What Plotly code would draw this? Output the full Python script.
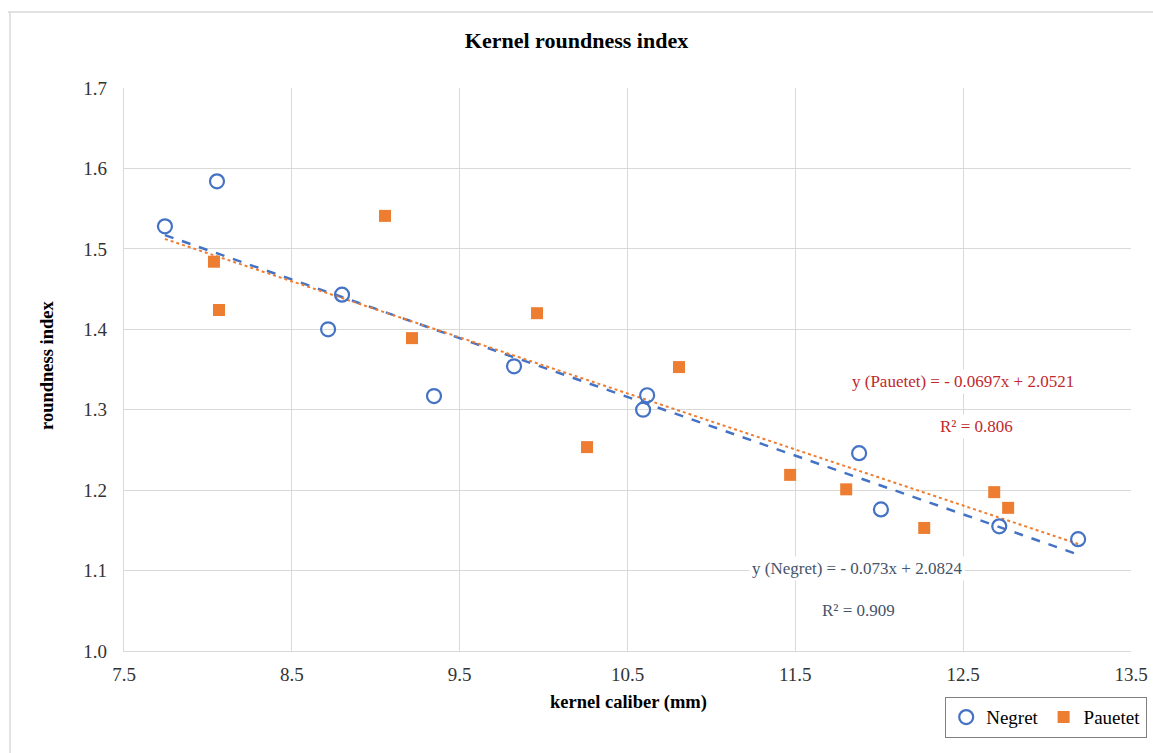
import plotly.graph_objects as go

# Data
negret_x = [7.744, 8.054, 8.716, 8.799, 9.347, 9.824, 10.593, 10.617, 11.88, 12.01, 12.715, 13.185]
negret_y = [1.528, 1.584, 1.400, 1.443, 1.317, 1.354, 1.300, 1.318, 1.246, 1.176, 1.155, 1.139]
pauetet_x = [8.036, 8.066, 9.055, 9.216, 9.961, 10.259, 10.807, 11.469, 11.803, 12.268, 12.685, 12.768]
pauetet_y = [1.484, 1.424, 1.541, 1.389, 1.420, 1.2535, 1.353, 1.219, 1.201, 1.153, 1.1975, 1.178]

# Trendline coefficients (as displayed)
negret_slope, negret_icpt, negret_r2 = -0.073, 2.0824, 0.909
pauetet_slope, pauetet_icpt, pauetet_r2 = -0.0697, 2.0521, 0.806

x_ticks = [7.5, 8.5, 9.5, 10.5, 11.5, 12.5, 13.5]
y_ticks = [1.0, 1.1, 1.2, 1.3, 1.4, 1.5, 1.6, 1.7]

FONT = "Liberation Serif"
BLUE = "#4472C4"
ORANGE = "#ED7D31"

W, H = 1153, 753
L, R, T, B = 124, 22, 88, 102
PW, PH = W - L - R, H - T - B

xmin = min(negret_x + pauetet_x)
xmax = max(negret_x + pauetet_x)
trend_x = [xmin, xmax]

fig = go.Figure()
fig.add_trace(go.Scatter(
    x=trend_x, y=[negret_icpt + negret_slope * v for v in trend_x],
    mode="lines", line=dict(color=BLUE, width=2.5, dash="dash"),
    showlegend=False, hoverinfo="skip"))
fig.add_trace(go.Scatter(
    x=trend_x, y=[pauetet_icpt + pauetet_slope * v for v in trend_x],
    mode="lines", line=dict(color=ORANGE, width=2, dash="dot"),
    showlegend=False, hoverinfo="skip"))
fig.add_trace(go.Scatter(
    x=negret_x, y=negret_y, mode="markers", name="Negret",
    marker=dict(symbol="circle-open", size=14, color=BLUE, line=dict(width=2.2, color=BLUE))))
fig.add_trace(go.Scatter(
    x=pauetet_x, y=pauetet_y, mode="markers", name="Pauetet",
    marker=dict(symbol="square", size=12, color=ORANGE)))

def fmt_eq(name, s, b):
    return f"y ({name}) = - {abs(s):g}x + {b:g}"

ann = [
    dict(x=12.5, y=1.3345, text=fmt_eq("Pauetet", pauetet_slope, pauetet_icpt),
         font=dict(color="#C0282D", size=17, family=FONT)),
    dict(x=12.58, y=1.2795, text=f"R² = {pauetet_r2}",
         font=dict(color="#C0282D", size=17, family=FONT)),
    dict(x=11.87, y=1.102, text=fmt_eq("Negret", negret_slope, negret_icpt),
         font=dict(color="#44546A", size=17, family=FONT)),
    dict(x=11.875, y=1.0505, text=f"R² = {negret_r2}",
         font=dict(color="#44546A", size=17, family=FONT)),
]
for a in ann:
    fig.add_annotation(xref="x", yref="y", showarrow=False, bgcolor="white",
                       borderpad=2, **a)

# axis titles (pixel positions converted to paper coordinates)
fig.add_annotation(xref="paper", yref="paper", x=(628 - L) / PW, y=((H - B) - 702) / PH,
                   text="<b>kernel caliber (mm)</b>", showarrow=False,
                   xanchor="center", yanchor="middle",
                   font=dict(family=FONT, size=18.5, color="black"))
fig.add_annotation(xref="paper", yref="paper", x=(47 - L) / PW, y=((H - B) - 366) / PH,
                   text="<b>roundness index</b>", showarrow=False, textangle=-90,
                   xanchor="center", yanchor="middle",
                   font=dict(family=FONT, size=18.5, color="black"))

# outer chart frame
fig.add_shape(type="line", xref="paper", yref="paper",
              x0=(8 - L) / PW, x1=1.1, y0=((H - B) - 12) / PH, y1=((H - B) - 12) / PH,
              line=dict(color="#D9D9D9", width=1.5))
fig.add_shape(type="line", xref="paper", yref="paper",
              x0=(10 - L) / PW, x1=(10 - L) / PW, y0=((H - B) - 12) / PH, y1=-0.2,
              line=dict(color="#D9D9D9", width=1.5))

fig.update_layout(
    width=W, height=H,
    margin=dict(l=L, r=R, t=T, b=B),
    paper_bgcolor="white", plot_bgcolor="white",
    font=dict(family=FONT, size=16, color="#222222"),
    title=dict(text="<b>Kernel roundness index</b>", x=0.5, xanchor="center",
               y=1 - 40 / H, yanchor="middle",
               font=dict(family=FONT, size=22, color="black")),
    xaxis=dict(range=[7.5, 13.5], tickvals=x_ticks, ticktext=[f"{v:.1f}" for v in x_ticks],
               automargin=False,
               showgrid=True, gridcolor="#D9D9D9", gridwidth=1.3,
               showline=True, linecolor="#D9D9D9", linewidth=1.3,
               zeroline=False, ticks="", ticklabelstandoff=6,
               tickfont=dict(family=FONT, size=19, color="#333333")),
    yaxis=dict(range=[1.0, 1.7], tickvals=y_ticks, ticktext=[f"{v:.1f}" for v in y_ticks],
               automargin=False,
               showgrid=True, gridcolor="#D9D9D9", gridwidth=1.3,
               showline=True, linecolor="#D9D9D9", linewidth=1.3,
               zeroline=False, ticks="", ticklabelstandoff=12,
               tickfont=dict(family=FONT, size=19, color="#333333")),
    legend=dict(orientation="h", xref="container", yref="container",
                x=945 / W, xanchor="left", y=1 - 697 / H, yanchor="top",
                bordercolor="#808080", borderwidth=1.2, bgcolor="white",
                font=dict(family=FONT, size=19, color="black"),
                itemwidth=30, tracegroupgap=0, valign="middle"),
)

fig.write_html("out.html")
